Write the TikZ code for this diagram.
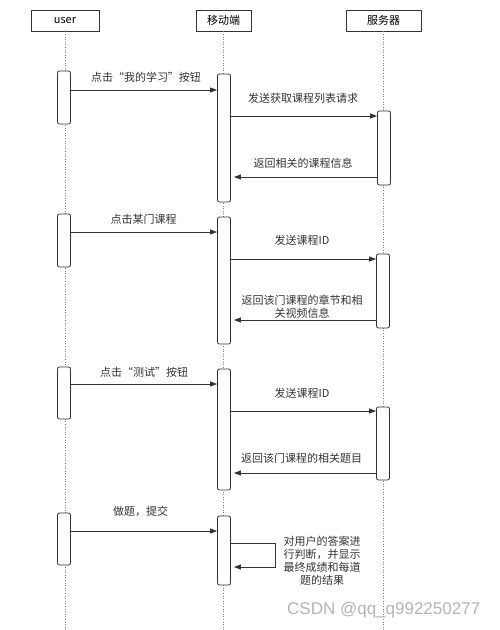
\documentclass[tikz,border=0pt]{standalone}
\usepackage{fontspec}
\setmainfont{Noto Sans CJK SC}
\newfontfamily\wmfont{Liberation Sans}
\usetikzlibrary{arrows.meta}
\definecolor{ink}{HTML}{333333}
\definecolor{wm}{HTML}{B4B4B4}
\tikzset{
  head/.style={draw=ink, line width=0.8pt, minimum height=21pt, inner sep=0pt, font=\fontsize{11}{13}\selectfont},
  act/.style={draw=ink, fill=white, line width=0.8pt, rounded corners=2pt, minimum width=13pt, inner sep=0pt},
  life/.style={draw=gray, dotted, line width=0.6pt},
  msg/.style={draw=ink, line width=0.8pt, -{Triangle[length=7pt,width=5pt]}},
  lbl/.style={text=ink, font=\fontsize{11}{13}\selectfont, inner sep=0pt, align=center}
}
\begin{document}
\begin{tikzpicture}[x=1pt,y=-1pt]
        \useasboundingbox (0,0) rectangle (500,630);
        \node[head, minimum width=68pt] (user) at (65,20.5) {user};
        \node[head, minimum width=55pt] (mobile) at (223.5,20.5) {移动端};
        \node[head, minimum width=75pt] (server) at (383.5,20.5) {服务器};
        \draw[life] (user.south) -- (user.south |- 0,630);
        \draw[life] (mobile.south) -- (mobile.south |- 0,630);
        \draw[life] (server.south) -- (server.south |- 0,630);

        \node[act, minimum height=53pt] (u1) at (64,97.5) {};
        \node[act, minimum height=128pt] (m1) at (224,138) {};
        \node[act, minimum height=74pt] (s1) at (384,148) {};
        \node[act, minimum height=53pt] (u2) at (64,240.5) {};
        \node[act, minimum height=127pt] (m2) at (224,280.5) {};
        \node[act, minimum height=74pt] (s2) at (383,291) {};
        \node[act, minimum height=52pt] (u3) at (64,393) {};
        \node[act, minimum height=121pt] (m3) at (224,429.5) {};
        \node[act, minimum height=73pt] (s3) at (383,443.5) {};
        \node[act, minimum height=52pt] (u4) at (64,539) {};
        \node[act, minimum height=69pt] (m4) at (224,550.5) {};

        \draw[msg] (u1.east |- 0,90) -- (m1.west |- 0,90);
        \node[lbl] (t1) at (146,77) {点击“我的学习”按钮};
        \draw[msg] (m1.east |- 0,116) -- (s1.west |- 0,116);
        \node[lbl] (t2) at (303,98) {发送获取课程列表请求};
        \draw[msg] (s1.west |- 0,177) -- ([xshift=3pt]m1.east |- 0,177);
        \node[lbl] (t3) at (303,163) {返回相关的课程信息};

        \draw[msg] (u2.east |- 0,232) -- (m2.west |- 0,232);
        \node[lbl] (t4) at (143.5,219) {点击某门课程};
        \draw[msg] (m2.east |- 0,259) -- (s2.west |- 0,259);
        \node[lbl] (t5) at (302,240) {发送课程ID};
        \draw[msg] (s2.west |- 0,320) -- ([xshift=3pt]m2.east |- 0,320);
        \node[lbl] (t6) at (302,306.5) {返回该门课程的章节和相\\关视频信息};

        \draw[msg] (u3.east |- 0,384) -- (m3.west |- 0,384);
        \node[lbl] (t7) at (144,372) {点击“测试”按钮};
        \draw[msg] (m3.east |- 0,411) -- (s3.west |- 0,411);
        \node[lbl] (t8) at (302,393) {发送课程ID};
        \draw[msg] (s3.west |- 0,473) -- ([xshift=3pt]m3.east |- 0,473);
        \node[lbl] (t9) at (301.5,458) {返回该门课程的相关题目};

        \draw[msg] (u4.east |- 0,531) -- (m4.west |- 0,531);
        \node[lbl] (t10) at (140.5,511) {做题，提交};
        \draw[msg] (m4.east |- 0,543) -- (275,543) -- (275,567) -- ([xshift=3pt]m4.east |- 0,567);
        \node[lbl] (t11) at (322,561) {对用户的答案进\\行判断，并显示\\最终成绩和每道\\题的结果};

        \node[text=wm, font=\wmfont\fontsize{17}{19}\selectfont, anchor=west, inner sep=0pt] (mark) at (287,610) {CSDN @qq\_q992250277};
    \end{tikzpicture}
\end{document}
